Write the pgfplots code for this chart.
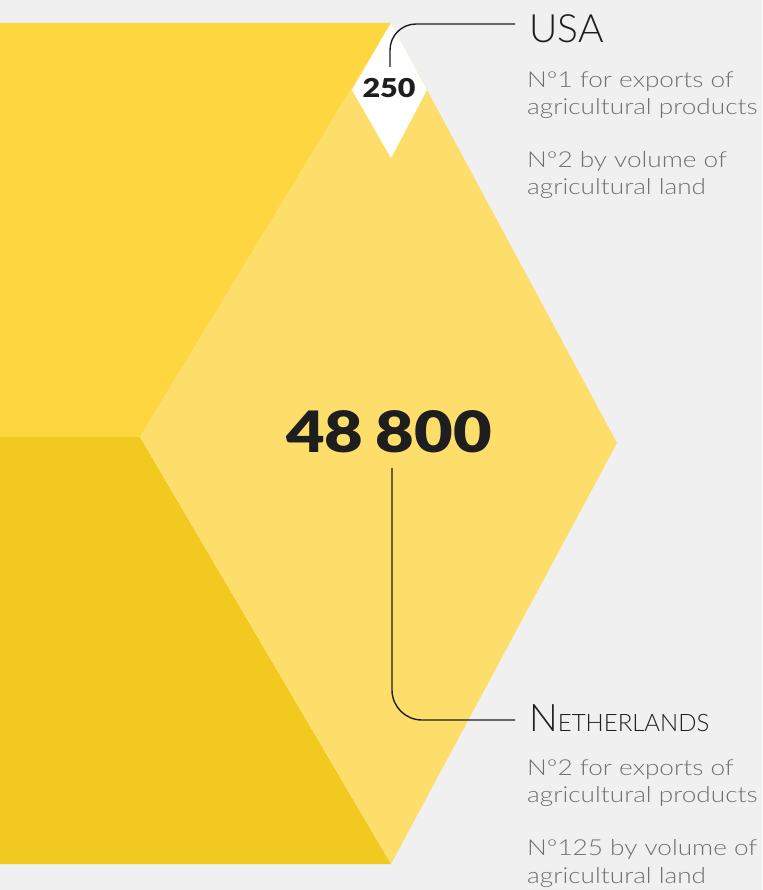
\documentclass[border=0pt]{standalone}
\usepackage{pgfplots}
\pgfplotsset{compat=1.18}
\usepackage{fontspec}
\setmainfont{Lato}
\IfFontExistsTF{Lato Light}{\newfontfamily\lightfont{Lato Light}\newfontfamily\lightwide{Lato Light}[FakeStretch=1.19]}{\newfontfamily\lightfont{Lato}\newfontfamily\lightwide{Lato}[FakeStretch=1.19]}
\IfFontExistsTF{Lato Black}{\newfontfamily\heavyfont{Lato Black}[FakeStretch=1.17]}{\newfontfamily\heavyfont{Lato}[UprightFont=*-Bold,FakeStretch=1.17]}
\definecolor{bgc}{HTML}{F0F0F0}
\definecolor{upper}{HTML}{FED740}
\definecolor{lower}{HTML}{F2C91F}
\definecolor{lightc}{HTML}{FEDE6B}
\definecolor{dark}{HTML}{1E1E1E}
\definecolor{greyt}{HTML}{707070}
\begin{document}
\begin{tikzpicture}
\begin{axis}[width=762pt,height=890pt,scale only axis,
  xmin=0,xmax=762,ymin=0,ymax=890,y dir=reverse,hide axis,clip=false]
\addplot[fill=bgc,draw=none] coordinates {(0,0)(762,0)(762,890)(0,890)} -- cycle;
\addplot[fill=upper,draw=none] coordinates {(0,23)(391,23)(140,437)(0,437)} -- cycle;
\addplot[fill=lower,draw=none] coordinates {(0,437)(140,437)(391,864)(0,864)} -- cycle;
\addplot[fill=lightc,draw=none] coordinates {(391,23)(617,443)(391,864)(140,437)} -- cycle;
\addplot[fill=white,draw=none] coordinates {(391,23)(427,90)(391,158)(352,90)} -- cycle;
\addplot[draw=dark,line width=1.4pt,rounded corners=26pt] coordinates {(390,67)(390,24)(515,24)};
\addplot[draw=dark,line width=1.4pt,rounded corners=30pt] coordinates {(392,468)(392,720)(515,720)};
\node[anchor=center,inner sep=0,text=dark,font=\heavyfont\fontsize{26}{26}\selectfont] at (axis cs:389,88.5) {250};
\node[anchor=center,inner sep=0,text=dark,font=\heavyfont\fontsize{57}{57}\selectfont] at (axis cs:389,431.5) {48\hspace{0.22em}800};
\node[anchor=base west,inner sep=0,text=dark,font=\lightfont\fontsize{39}{39}\selectfont] at (axis cs:529,43) {USA};
\node[anchor=base west,inner sep=0,text=greyt,font=\lightwide\fontsize{22}{22}\selectfont] at (axis cs:527,88) {Nº1 for exports of};
\node[anchor=base west,inner sep=0,text=greyt,font=\lightwide\fontsize{22}{22}\selectfont] at (axis cs:527,115) {agricultural products};
\node[anchor=base west,inner sep=0,text=greyt,font=\lightwide\fontsize{22}{22}\selectfont] at (axis cs:527,168) {Nº2 by volume of};
\node[anchor=base west,inner sep=0,text=greyt,font=\lightwide\fontsize{22}{22}\selectfont] at (axis cs:527,195) {agricultural land};
\node[anchor=base west,inner sep=0,text=dark,font=\lightfont\fontsize{38}{38}\selectfont] at (axis cs:529,731) {N{\fontsize{24}{24}\selectfont ETHERLANDS}};
\node[anchor=base west,inner sep=0,text=greyt,font=\lightwide\fontsize{22}{22}\selectfont] at (axis cs:527,775) {Nº2 for exports of};
\node[anchor=base west,inner sep=0,text=greyt,font=\lightwide\fontsize{22}{22}\selectfont] at (axis cs:527,802) {agricultural products};
\node[anchor=base west,inner sep=0,text=greyt,font=\lightwide\fontsize{22}{22}\selectfont] at (axis cs:527,855) {Nº125 by volume of};
\node[anchor=base west,inner sep=0,text=greyt,font=\lightwide\fontsize{22}{22}\selectfont] at (axis cs:527,883) {agricultural land};
\coordinate (SW) at (axis cs:0,890);
\coordinate (NE) at (axis cs:762,0);
\end{axis}
\pgfresetboundingbox
\path[use as bounding box] (SW) rectangle (NE);
\end{tikzpicture}
\end{document}
